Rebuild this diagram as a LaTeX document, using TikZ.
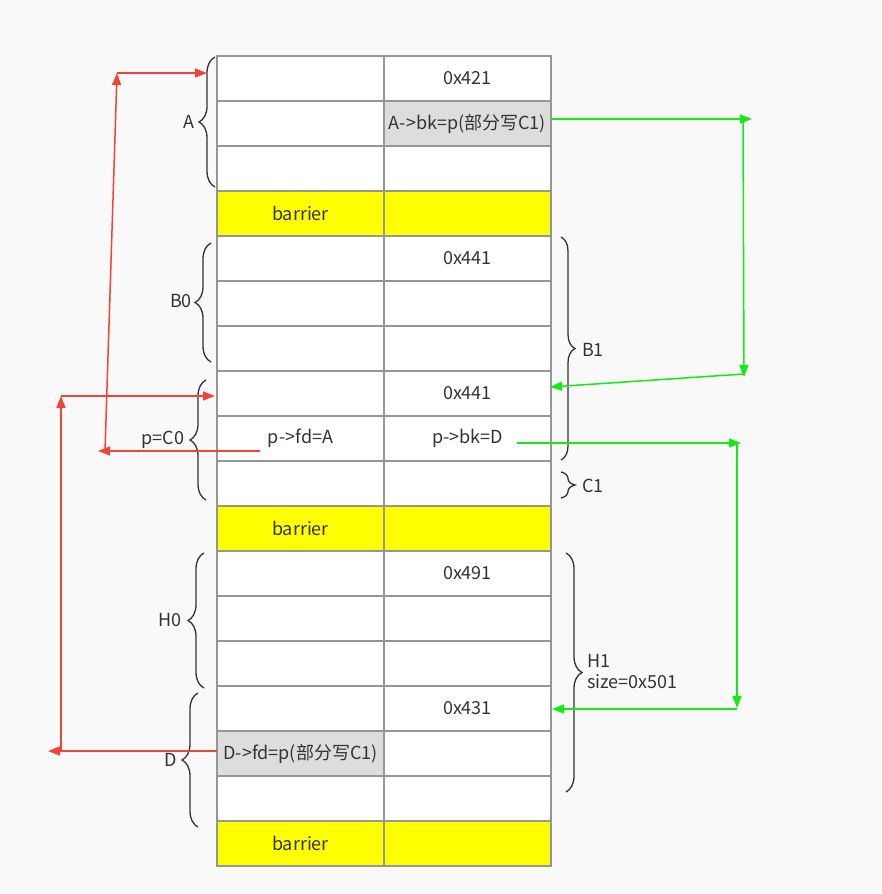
\documentclass[tikz,border=0pt]{standalone}
\usepackage{fontspec}
\setmainfont{Noto Sans CJK SC}
\usetikzlibrary{arrows.meta,decorations.pathreplacing}
\definecolor{bg}{RGB}{249,249,249}
\definecolor{gridc}{RGB}{150,150,150}
\definecolor{txt}{RGB}{51,51,51}
\definecolor{hl}{RGB}{221,221,221}
\definecolor{bar}{RGB}{255,255,0}
\definecolor{redc}{RGB}{240,68,56}
\definecolor{grnc}{RGB}{20,235,20}
\begin{document}
\begin{tikzpicture}[x=1pt,y=-1pt,
  font=\fontsize{18}{21}\selectfont,
  cell/.style={draw=gridc,line width=1.3pt,minimum width=167pt,minimum height=45pt,inner sep=0pt,outer sep=0pt,text=txt},
  lbl/.style={text=txt,inner sep=0pt},
  bracel/.style={draw=txt,line width=1.3pt,decorate,decoration={brace,amplitude=16pt}},
  bracer/.style={draw=txt,line width=1.3pt,decorate,decoration={brace,amplitude=14pt}},
  redarrow/.style={draw=redc,line width=1.5pt,-{Triangle[length=12pt,width=9pt]}},
  grnarrow/.style={draw=grnc,line width=1.5pt,-{Triangle[length=12pt,width=9pt]}}]
\path[fill=bg] (0,0) rectangle (882,894);
% cells
\foreach \i/\lf/\rf/\lt/\rt in {
  0/white/white//0x421,
  1/white/hl//A->bk=p(部分写C1),
  2/white/white//,
  3/bar/bar/barrier/,
  4/white/white//0x441,
  5/white/white//,
  6/white/white//,
  7/white/white//0x441,
  8/white/white/p->fd=A/p->bk=D,
  9/white/white//,
  10/bar/bar/barrier/,
  11/white/white//0x491,
  12/white/white//,
  13/white/white//,
  14/white/white//0x431,
  15/hl/white/D->fd=p(部分写C1)/,
  16/white/white//,
  17/bar/bar/barrier/}{
  \node[cell,fill=\lf] (L\i) at (300.5,78.5+45*\i) {\lt};
  \node[cell,fill=\rf] (R\i) at (467.5,78.5+45*\i) {\rt};
}
% left braces
\draw[bracel] (215,187) -- (215,57);
\node[lbl] (lA) at (189,122) {A};
\draw[bracel] (211,362) -- (211,243);
\node[lbl] (lB0) at (181,301) {B0};
\draw[bracel] (206,500) -- (206,380);
\node[lbl] (lC0) at (163,440) {p=C0};
\draw[bracel] (204,688) -- (204,553);
\node[lbl] (lH0) at (170,620) {H0};
\draw[bracel] (198,827) -- (198,693);
\node[lbl] (lD) at (171,760) {D};
% right braces
\draw[bracer] (561,237) -- (561,460);
\node[lbl] (lB1) at (593,350) {B1};
\draw[bracer] (561,472) -- (561,498);
\node[lbl] (lC1) at (593,486) {C1};
\draw[bracel] (566,553) -- (566,792);
\node[lbl,anchor=west,align=left] (lH1) at (587,672) {H1\\size=0x501};
% red connectors
\coordinate (r1a) at (260,451);
\coordinate (r1b) at (98,451);
\coordinate (r1c) at (105,451);
\coordinate (r1d) at (117,73);
\coordinate (r1e) at (207,73);
\draw[redarrow] (r1a) -- (r1b);
\draw[redarrow] (r1c) -- (r1d);
\draw[redarrow] (r1d) -- (r1e);
\coordinate (r2a) at (217,751);
\coordinate (r2b) at (48,751);
\coordinate (r2c) at (61,751);
\coordinate (r2d) at (61,396);
\coordinate (r2e) at (215,396);
\draw[redarrow] (r2a) -- (r2b);
\draw[redarrow] (r2c) -- (r2d);
\draw[redarrow] (r2d) -- (r2e);
% green connectors
\coordinate (g1a) at (551,119);
\coordinate (g1b) at (752,119);
\coordinate (g1c) at (743,119);
\coordinate (g1d) at (744,377);
\coordinate (g1e) at (744,374);
\coordinate (g1f) at (550,387);
\draw[grnarrow] (g1a) -- (g1b);
\draw[grnarrow] (g1c) -- (g1d);
\draw[grnarrow] (g1e) -- (g1f);
\coordinate (g2a) at (517,443);
\coordinate (g2b) at (741,443);
\coordinate (g2c) at (737,443);
\coordinate (g2d) at (737,708);
\coordinate (g2e) at (737,709);
\coordinate (g2f) at (552,709);
\draw[grnarrow] (g2a) -- (g2b);
\draw[grnarrow] (g2c) -- (g2d);
\draw[grnarrow] (g2e) -- (g2f);
\end{tikzpicture}
\end{document}
